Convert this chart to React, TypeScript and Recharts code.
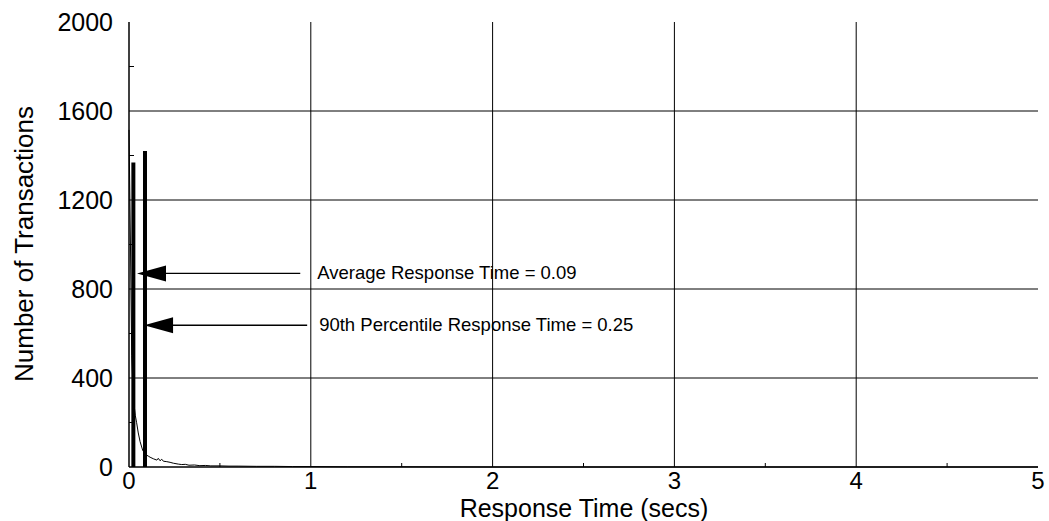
import React from "react";
import { ComposedChart, Line, XAxis, YAxis, ReferenceLine } from "recharts";

// ---- data ----
const respTime = [
  0, 0.008, 0.015, 0.025, 0.035, 0.042, 0.051, 0.061, 0.075, 0.088, 0.106, 0.116, 0.134, 0.153,
  0.161, 0.171, 0.18, 0.189, 0.208, 0.226, 0.244, 0.271, 0.29, 0.31, 0.33, 0.36, 0.39, 0.42,
  0.45, 0.5, 0.55, 0.6, 0.7, 0.8, 0.9, 1.0, 1.2, 1.5, 2.0, 5.0,
];
const txCount = [
  1515, 1000, 500, 300, 230, 199, 153, 114, 76, 58, 49, 44, 37, 31,
  39, 28, 35, 26, 24, 21, 17, 13, 11, 12, 8, 9, 6, 7,
  5, 5, 4, 4, 3, 3, 2, 2, 1, 1, 0, 0,
];

// thick marker bars (x position, height)
const markerX = [0.024, 0.088];
const markerH = [1369, 1420];

// arrows: tip x, tail x, y value, label
const arrowTipX = [0.044, 0.083];
const arrowTailX = [0.942, 0.98];
const arrowY = [870, 637];
const arrowLabels = ["Average Response Time = 0.09", "90th Percentile Response Time = 0.25"];

const xMajorTicks = [0, 1, 2, 3, 4, 5];
const xMinorTicks = [0.5, 1.5, 2.5, 3.5, 4.5];
const yMajorTicks = [0, 400, 800, 1200, 1600, 2000];
const yMinorTicks = [200, 600, 1000, 1400, 1800];
const xGrid = [1, 2, 3, 4];
const yGrid = [400, 800, 1200, 1600];

const chartData = respTime.map((t, i) => ({ t, count: txCount[i] }));

const FONT = "'Liberation Sans', Arial, Helvetica, sans-serif";

const allX = [...xMajorTicks, ...xMinorTicks].sort((a, b) => a - b);
const allY = [...yMajorTicks, ...yMinorTicks].sort((a, b) => a - b);

const BottomTick = (props: any) => {
  const { x, y, payload } = props;
  const v = payload.value;
  if (xMajorTicks.includes(v)) {
    return (
      <text x={x} y={y + 22} textAnchor="middle" fontSize={24} fontFamily={FONT} fill="#000">
        {v}
      </text>
    );
  }
  return <line x1={x} x2={x} y1={y} y2={y - 4} stroke="#000" strokeWidth={1} />;
};

const TopTick = (props: any) => {
  const { x, y, payload } = props;
  if (xMajorTicks.includes(payload.value)) return <g />;
  return <line x1={x} x2={x} y1={y} y2={y + 4} stroke="#000" strokeWidth={1} />;
};

const LeftTick = (props: any) => {
  const { x, y, payload } = props;
  const v = payload.value;
  if (yMajorTicks.includes(v)) {
    return (
      <text x={x - 16} y={y + 9} textAnchor="end" fontSize={25} fontFamily={FONT} fill="#000">
        {v}
      </text>
    );
  }
  return <line x1={x} x2={x + 5} y1={y} y2={y} stroke="#000" strokeWidth={1} />;
};

const RightTick = (props: any) => {
  const { x, y, payload } = props;
  if (yMajorTicks.includes(payload.value)) return <g />;
  return <line x1={x} x2={x - 5} y1={y} y2={y} stroke="#000" strokeWidth={1} />;
};

const makeArrow = (label: string, gap: number) => (p: any) => {
  const { x1, y1, x2 } = p;
  const tip = x1;
  const tail = x2;
  return (
    <g>
      <line x1={tip + 10} y1={y1} x2={tail} y2={y1} stroke="#000" strokeWidth={1.3} />
      <polygon points={`${tip},${y1} ${tip + 29},${y1 - 8} ${tip + 29},${y1 + 8}`} fill="#000" />
      <text x={tail + gap} y={y1 + 6} fontSize={18.5} fontFamily={FONT} fill="#000">
        {label}
      </text>
    </g>
  );
};

export default function App() {
  return (
    <div
      style={{
        position: "absolute",
        left: 0,
        top: 0,
        width: 1049,
        height: 521,
        background: "#fff",
        fontFamily: FONT,
      }}
    >
      <ComposedChart
        width={1049}
        height={521}
        data={chartData}
        margin={{ top: 22, right: 11, bottom: 0, left: 0 }}
      >
        <XAxis
          dataKey="t"
          type="number"
          domain={[0, 5]}
          ticks={allX}
          interval={0}
          height={54}
          tickSize={0}
          tickMargin={0}
          tickLine={false}
          axisLine={{ stroke: "#000", strokeWidth: 1.5 }}
          tick={<BottomTick />}
        />
        <XAxis
          xAxisId="top"
          orientation="top"
          dataKey="t"
          type="number"
          domain={[0, 5]}
          ticks={allX}
          interval={0}
          height={0}
          tickSize={0}
          tickMargin={0}
          tickLine={false}
          axisLine={{ stroke: "#000", strokeWidth: 1.5 }}
          tick={<TopTick />}
        />
        <YAxis
          type="number"
          domain={[0, 2000]}
          ticks={allY}
          interval={0}
          width={129}
          tickSize={0}
          tickMargin={0}
          tickLine={false}
          axisLine={{ stroke: "#000", strokeWidth: 1.5 }}
          tick={<LeftTick />}
        />
        <YAxis
          yAxisId="right"
          orientation="right"
          type="number"
          domain={[0, 2000]}
          ticks={allY}
          interval={0}
          width={0}
          tickSize={0}
          tickMargin={0}
          tickLine={false}
          axisLine={{ stroke: "#000", strokeWidth: 1.5 }}
          tick={<RightTick />}
        />
        {xGrid.map((v) => (
          <ReferenceLine key={"gx" + v} x={v} stroke="#000" strokeWidth={1} />
        ))}
        {yGrid.map((v) => (
          <ReferenceLine key={"gy" + v} y={v} stroke="#000" strokeWidth={1} />
        ))}
        <Line
          dataKey="count"
          type="linear"
          stroke="#000"
          strokeWidth={1}
          dot={false}
          activeDot={false}
          isAnimationActive={false}
        />
        {markerX.map((mx, i) => (
          <ReferenceLine
            key={"m" + i}
            segment={[
              { x: mx, y: 0 },
              { x: mx, y: markerH[i] },
            ]}
            stroke="#000"
            strokeWidth={4}
            ifOverflow="visible"
          />
        ))}
        {arrowTipX.map((tx, i) => (
          <ReferenceLine
            key={"a" + i}
            segment={[
              { x: tx, y: arrowY[i] },
              { x: arrowTailX[i], y: arrowY[i] },
            ]}
            ifOverflow="visible"
            shape={makeArrow(arrowLabels[i], i === 0 ? 17 : 12)}
          />
        ))}
        <text
          x={33}
          y={244}
          transform="rotate(-90 33 244)"
          textAnchor="middle"
          fontSize={26}
          fontFamily={FONT}
          fill="#000"
        >
          Number of Transactions
        </text>
        <text x={584} y={517} textAnchor="middle" fontSize={25} fontFamily={FONT} fill="#000">
          Response Time (secs)
        </text>
      </ComposedChart>
    </div>
  );
}
